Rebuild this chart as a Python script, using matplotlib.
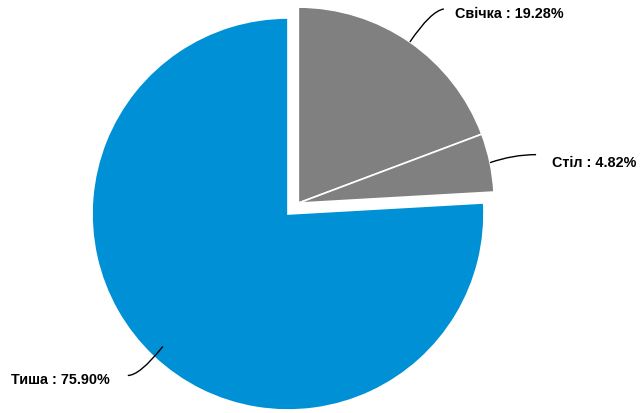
import numpy as np
import matplotlib
matplotlib.use("Agg")
import matplotlib.pyplot as plt
from matplotlib.path import Path
from matplotlib.patches import PathPatch

labels = ["Свічка", "Стіл", "Тиша"]
values = [19.28, 4.82, 75.90]
colors = ["#808080", "#808080", "#0090d5"]
detached = [True, True, False]

W, H = 641, 414
fig = plt.figure(figsize=(W / 100, H / 100), dpi=100)
ax = fig.add_axes([0, 0, 1, 1])

cx, cy, R = 288, H - 215, 196
wedges, _ = ax.pie(values, colors=colors, startangle=90, counterclock=False,
                   radius=R, center=(cx, cy), frame=True,
                   wedgeprops=dict(edgecolor="white", linewidth=1.2))
ax.set_xlim(0, W)
ax.set_ylim(0, H)
ax.set_aspect("equal")
ax.axis("off")

# pull the grey group out together along its combined bisector
total = sum(values)
grp = sum(v for v, d in zip(values, detached) if d)
bis = np.deg2rad(90 - grp / total * 360 / 2)
off = 15.0
dx, dy = off * np.cos(bis), off * np.sin(bis)
for w, d in zip(wedges, detached):
    if d:
        w.set_center((cx + dx, cy + dy))

# leader lines (quadratic curves) and labels; offsets in pixels, y up
start = [1.0, 1.0, 0.93]
bend = [(21, 31), (23, 8), (-23, -29)]
end = [(34, 33), (46, 8), (-35, -29)]
gap = [11, 16, 18]
drop = [4, 7, 4]

cum = 0.0
for i, (lab, v, w) in enumerate(zip(labels, values, wedges)):
    mid = np.deg2rad(90 - (cum + v / 2) / total * 360)
    cum += v
    ccx, ccy = w.center
    r = R * start[i]
    p0 = np.array([ccx + r * np.cos(mid), ccy + r * np.sin(mid)])
    p1 = p0 + np.array(bend[i], dtype=float)
    p2 = p0 + np.array(end[i], dtype=float)
    path = Path([p0, p1, p2], [Path.MOVETO, Path.CURVE3, Path.CURVE3])
    ax.add_patch(PathPatch(path, fill=False, edgecolor="black", lw=1.0))
    txt = f"{lab} : {v:.2f}%"
    if p2[0] >= p0[0]:
        ax.text(p2[0] + gap[i], p2[1] - drop[i], txt, ha="left", va="center",
                fontfamily="Liberation Sans", fontweight="bold", fontsize=10.4)
    else:
        ax.text(p2[0] - gap[i], p2[1] - drop[i], txt, ha="right", va="center",
                fontfamily="Liberation Sans", fontweight="bold", fontsize=10.4)

fig.savefig("out.png", dpi=100)
